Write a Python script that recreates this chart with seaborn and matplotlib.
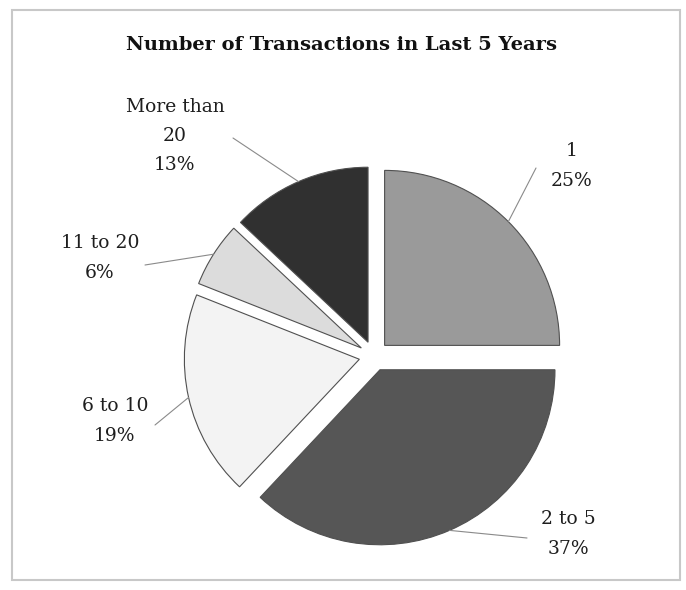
import seaborn as sns
import matplotlib.pyplot as plt
import numpy as np
from matplotlib.patches import Rectangle

# dados
categorias = ['1', '2 to 5', '6 to 10', '11 to 20', 'More than\n20']
percentuais = [25, 37, 19, 6, 13]
cores = ['#9a9a9a', '#565656', '#f3f3f3', '#dcdcdc', '#303030']
titulo = 'Number of Transactions in Last 5 Years'

sns.set_theme(style='white')
plt.rcParams['font.family'] = ['DejaVu Serif']

fig = plt.figure(figsize=(6.86, 5.90), dpi=100)
ax = fig.add_axes([0, 0, 1, 1])

# pizza explodida, sentido horario a partir do topo (explode em unidades de dado)
wedges, _ = ax.pie(percentuais, colors=cores, startangle=90, counterclock=False,
                   explode=[15] * len(percentuais), radius=175, center=(374, 234),
                   wedgeprops=dict(edgecolor='#505050', linewidth=0.8))
ax.set_xlim(0, 686)
ax.set_ylim(0, 590)
ax.axis('off')

# posicoes dos rotulos (pixels, y para cima) e fim das linhas guia
pos_rotulo = [(572, 424), (568, 56), (115, 169), (100, 332), (175, 454)]
fim_linha = [(536, 422), (527, 52), (155, 165), (145, 325), (233, 452)]

for w, cat, p, lab, fim in zip(wedges, categorias, percentuais, pos_rotulo, fim_linha):
    ang = np.deg2rad((w.theta1 + w.theta2) / 2)
    cx, cy = w.center
    ini = (cx + w.r * np.cos(ang), cy + w.r * np.sin(ang))
    ax.plot([ini[0], fim[0]], [ini[1], fim[1]], color='#8a8a8a', lw=0.8)
    ax.text(lab[0], lab[1], f'{cat}\n{p}%', ha='center', va='center',
            fontsize=13.5, linespacing=1.8, color='#1e1e1e')

ax.text(342, 545, titulo, ha='center', va='center', fontsize=14,
        fontweight='bold', color='#111111')

# moldura
fig.patches.append(Rectangle((12 / 686, 10 / 590), 668 / 686, 570 / 590,
                             transform=fig.transFigure, fill=False,
                             edgecolor='#c8c8c8', linewidth=1.5))

fig.savefig('out.png', dpi=100)
